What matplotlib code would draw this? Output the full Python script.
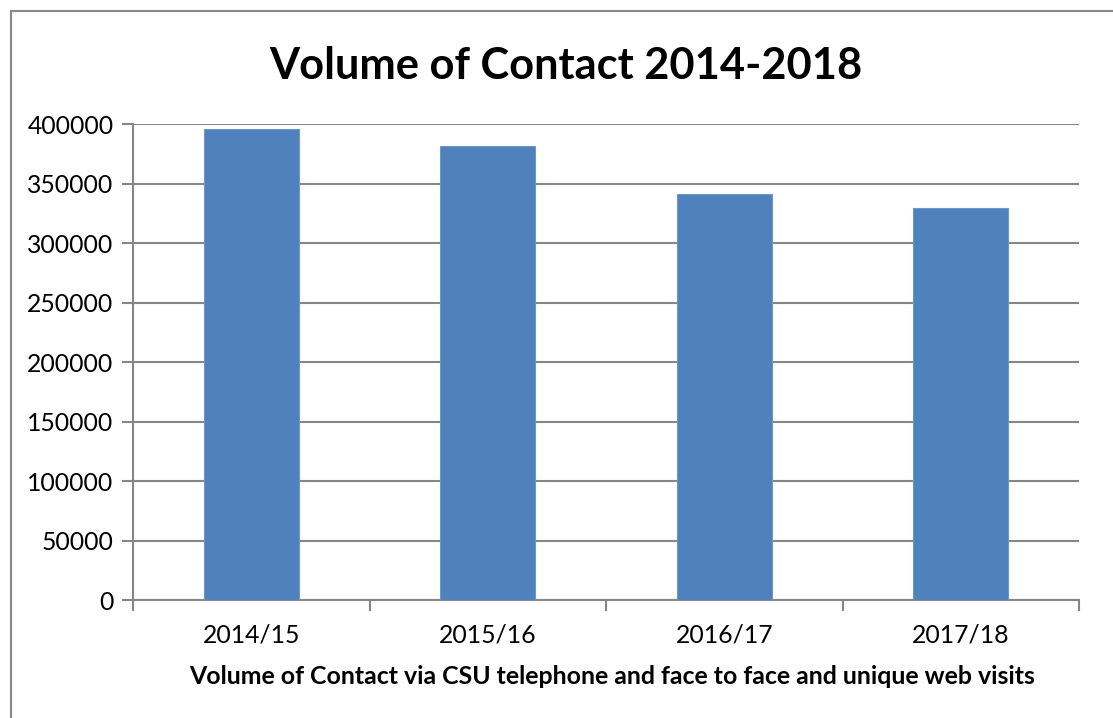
import matplotlib.pyplot as plt
from matplotlib.lines import Line2D

# Данные
years = ["2014/15", "2015/16", "2016/17", "2017/18"]
contacts = [395500, 381500, 341200, 329200]
y_ticks = [0, 50000, 100000, 150000, 200000, 250000, 300000, 350000, 400000]

plt.rcParams['font.family'] = ['Lato', 'DejaVu Sans']

W, H = 1113, 718
fig = plt.figure(figsize=(W / 100, H / 100), dpi=100)
ax = fig.add_axes([133 / W, 1 - 600.3 / H, (1079 - 133) / W, (600.3 - 124) / H])

x = list(range(len(years)))
ax.bar(x, contacts, width=0.40, color="#4F81BD", edgecolor="#6E96C9", linewidth=0.8, zorder=3)

ax.set_xlim(-0.5, len(years) - 0.5)
ax.set_ylim(0, 400000)
ax.set_yticks(y_ticks)
ax.set_yticklabels([str(v) for v in y_ticks], fontsize=17.8)
ax.set_xticks(x)
ax.set_xticklabels(years, fontsize=17.8)
ax.set_xticks([i - 0.5 for i in range(len(years) + 1)], minor=True)
ax.tick_params(axis='x', which='major', length=0, pad=17)
ax.tick_params(axis='x', which='minor', length=8, width=1.5, color="#868686", direction='out')
ax.tick_params(axis='y', length=8, width=1.5, color="#868686", pad=6)

ax.grid(axis='y', color="#868686", linewidth=1.5, zorder=0)
for s in ['top', 'right']:
    ax.spines[s].set_visible(False)
for s in ['left', 'bottom']:
    ax.spines[s].set_color("#868686")
    ax.spines[s].set_linewidth(1.5)

fig.text(566 / W, 1 - 66 / H, "Volume of Contact 2014-2018", ha='center', va='center',
         fontsize=31.2, fontweight='bold')
fig.text(612 / W, 1 - 676 / H, "Volume of Contact via CSU telephone and face to face and unique web visits",
         ha='center', va='center', fontsize=17.9, fontweight='bold')

# Рамка
fig.add_artist(Line2D([10.5 / W, 10.5 / W], [0, 1 - 11 / H], color="#888888", linewidth=1.5))
fig.add_artist(Line2D([10.5 / W, 1], [1 - 11 / H, 1 - 11 / H], color="#888888", linewidth=1.5))

fig.savefig("out.png", dpi=100)
